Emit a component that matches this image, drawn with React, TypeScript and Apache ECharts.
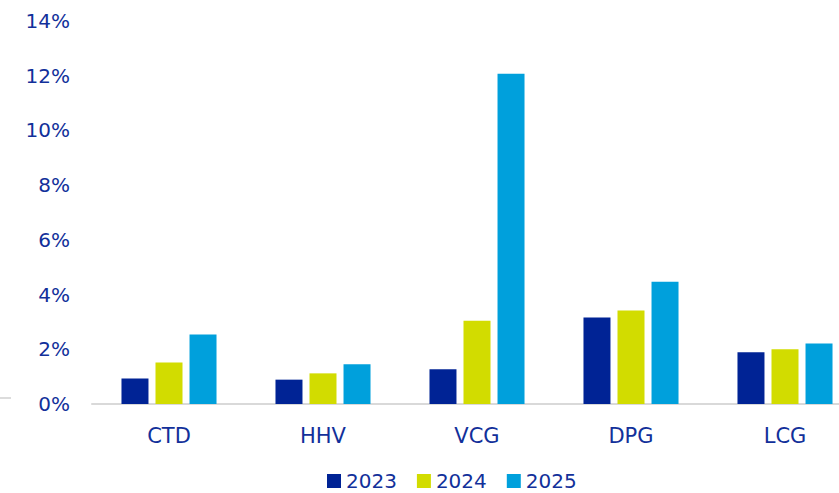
import React, { useEffect, useRef } from "react";
import * as echarts from "echarts";

const categories = ["CTD", "HHV", "VCG", "DPG", "LCG"];
const seriesNames = ["2023", "2024", "2025"];
const values2023 = [0.93, 0.89, 1.27, 3.16, 1.89];
const values2024 = [1.52, 1.12, 3.04, 3.42, 2.0];
const values2025 = [2.54, 1.45, 12.07, 4.47, 2.21];
const colors = ["#002395", "#d2dc00", "#00a0dc"];
const textColor = "#12309a";
const fontFamily = "'DejaVu Sans', sans-serif";

export default function App() {
  const ref = useRef<HTMLDivElement>(null);
  useEffect(() => {
    if (!ref.current) return;
    const chart = echarts.init(ref.current, null, { renderer: "svg" });
    const data = [values2023, values2024, values2025];
    chart.setOption({
      animation: false,
      grid: { left: 92, top: 21, width: 770, bottom: 89, outerBoundsMode: "none", containLabel: false },
      legend: {
        left: 327,
        top: 471,
        padding: 0,
        data: seriesNames,
        itemWidth: 14,
        itemHeight: 14,
        itemGap: 20,
        icon: "rect",
        textStyle: { color: textColor, fontSize: 20, fontFamily, lineHeight: 20 },
      },
      xAxis: {
        type: "category",
        data: categories,
        axisLine: { lineStyle: { color: "#d9d9d9", width: 2 } },
        axisTick: { show: false },
        axisLabel: { color: textColor, fontSize: 21, fontFamily, margin: 21 },
      },
      yAxis: {
        type: "value",
        min: 0,
        max: 14,
        interval: 2,
        splitLine: { show: false },
        axisLine: { show: false },
        axisTick: { show: false },
        axisLabel: { color: textColor, fontSize: 20, fontFamily, margin: 22, formatter: "{value}%" },
      },
      graphic: [
        {
          type: "line",
          shape: { x1: 0, y1: 398, x2: 11, y2: 398 },
          style: { stroke: "#d0d0d0", lineWidth: 1.5 },
        },
      ],
      series: seriesNames.map((name, i) => ({
        name,
        type: "bar",
        data: data[i],
        barWidth: 27,
        barGap: "26%",
        itemStyle: { color: colors[i] },
      })),
    });
    return () => chart.dispose();
  }, []);
  return <div ref={ref} style={{ width: 839, height: 493, position: "absolute", left: 0, top: 0 }} />;
}
